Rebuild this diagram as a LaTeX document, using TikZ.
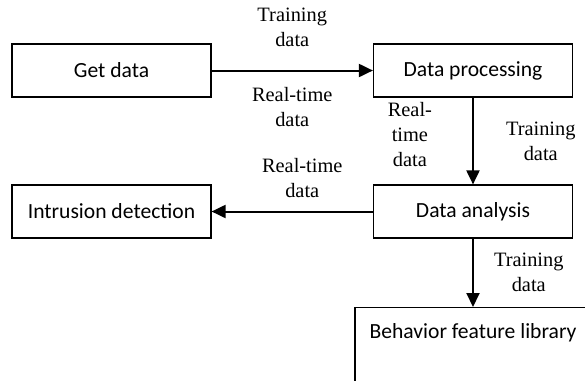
\documentclass[tikz,border=0pt]{standalone}
\usepackage{fontspec}
\setmainfont{Liberation Serif}
\newfontfamily\boxfont{Carlito}
\usetikzlibrary{arrows.meta}
\begin{document}
\begin{tikzpicture}[x=0.5pt, y=-0.5pt,
  blk/.style={draw, line width=0.6pt, minimum width=99.5pt, minimum height=26.5pt, inner sep=0pt, font=\boxfont\fontsize{10.8}{13}\selectfont},
  lab/.style={inner sep=0pt, align=center, font=\fontsize{10.2}{12.5}\selectfont},
  flow/.style={line width=1pt, -{Triangle[length=7pt, width=6.5pt]}}]

  \clip (0,0) rectangle (585,381);

  \node[blk] (get) at (111.5,70.5) {Get data};
  \node[blk] (process) at (473,70.5) {Data processing};
  \node[blk] (analysis) at (473,211.5) {Data analysis};
  \node[blk] (intrusion) at (111.5,211.5) {Intrusion detection};
  % library box runs off the page at the bottom right
  \node[blk, anchor=north, minimum width=118pt, text height=15.5pt, text depth=25pt] (library) at (473,307) {Behavior feature library};

  \draw[flow] (get) -- node[lab, above=11.5pt] {Training\\data} node[lab, below=8pt] {Real-time\\data} (process); % get -> process
  \draw[flow] (process) -- node[lab, left=20pt, yshift=3pt] {Real-\\time\\data} node[lab, right=16pt] {Training\\data} (analysis); % process -> analysis
  \draw[flow] (analysis) -- node[lab, above=6.5pt, xshift=5pt] {Real-time\\data} (intrusion); % analysis -> intrusion
  \draw[flow] (analysis) -- node[lab, right=10pt] {Training\\data} (library); % analysis -> library

\end{tikzpicture}
\end{document}
